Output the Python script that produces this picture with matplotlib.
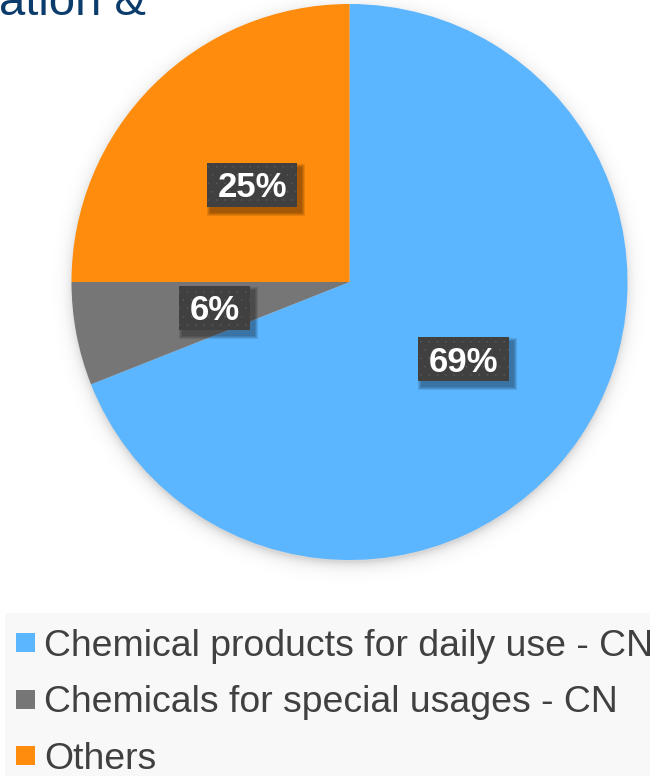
import numpy as np
import matplotlib
matplotlib.use("Agg")
import matplotlib.pyplot as plt
from matplotlib.patches import Rectangle

plt.rcParams["font.family"] = ["Liberation Sans", "DejaVu Sans"]
plt.rcParams["hatch.linewidth"] = 0.0

# Share of sales by segment
categories = ["Chemical products for daily use - CN",
              "Chemicals for special usages - CN",
              "Others"]
shares = [69, 6, 25]
colors = ["#5BB5FF", "#767676", "#FF8C0C"]
title_fragment = "ation &"

W, H = 654, 776
fig = plt.figure(figsize=(W / 100, H / 100), dpi=100)
ax = fig.add_axes([0, 0, 1, 1])

cx, cy, R = 349.5, H - 282, 278

# soft drop shadow behind the pie
yy, xx = np.mgrid[0:H, 0:W]
d = np.hypot(xx + 0.5 - cx, (H - yy - 0.5) - (cy - 4))
alpha = np.where(d > R - 2, 0.16 * np.exp(-np.clip(d - R + 2, 0, None) / 6.0), 0.16)
shadow = np.zeros((H, W, 4))
shadow[..., 3] = alpha
ax.imshow(shadow, extent=(0, W, 0, H), origin="upper", zorder=0, interpolation="bilinear")

wedges, _, pct_texts = ax.pie(
    shares, colors=colors, startangle=90, counterclock=False,
    center=(cx, cy), radius=R, autopct="%1.0f%%", pctdistance=0.495,
    wedgeprops=dict(linewidth=0, zorder=2),
    textprops=dict(color="white", fontsize=25, fontweight="bold"))

ax.set_xlim(0, W)
ax.set_ylim(0, H)
ax.set_aspect("auto")
ax.axis("off")

# dark value boxes with dotted texture and soft shadow
fig.canvas.draw()
renderer = fig.canvas.get_renderer()
cap = 0.716 * 25 * 100 / 72
box_h = 44
for t in pct_texts:
    x0, y0 = t.get_position()
    t.set_va("baseline")
    t.set_position((x0, y0 - cap / 2))
    t.set_zorder(6)
    bb = t.get_window_extent(renderer)
    bw = bb.width + 21
    left, bottom = x0 - bw / 2, y0 - box_h / 2
    for k in range(4):
        g = 4 - k
        ax.add_patch(Rectangle((left + 4 - g, bottom - 5 - g), bw + 2 * g, box_h + 2 * g,
                               facecolor="black", edgecolor="none", alpha=0.10, zorder=3))
    ax.add_patch(Rectangle((left, bottom), bw, box_h, facecolor="#404040",
                           edgecolor="none", zorder=4))
    ax.add_patch(Rectangle((left, bottom), bw, box_h, facecolor="none",
                           edgecolor="#5A5A5A", hatch="..", linewidth=0, zorder=5))

# legend panel
ax.add_patch(Rectangle((5, 0), 645, H - 613, facecolor="#F8F8F8", edgecolor="none", zorder=1))
row_centers = [642.5, 699, 755.5]
lsize = 26.9
lcap = 0.716 * lsize * 100 / 72
for lab, col, rc in zip(categories, colors, row_centers):
    ax.add_patch(Rectangle((16, H - rc - 9.5), 19, 19, facecolor=col, edgecolor="none", zorder=2))
    ax.text(44, H - rc - lcap / 2, lab, fontsize=lsize, color="#404040",
            va="baseline", ha="left", zorder=2)

# heading, running off the top edge
ax.text(146, H - 15, title_fragment, fontsize=34, color="#0B3C6B",
        ha="right", va="baseline", zorder=2)

fig.savefig("out.png", dpi=100)
